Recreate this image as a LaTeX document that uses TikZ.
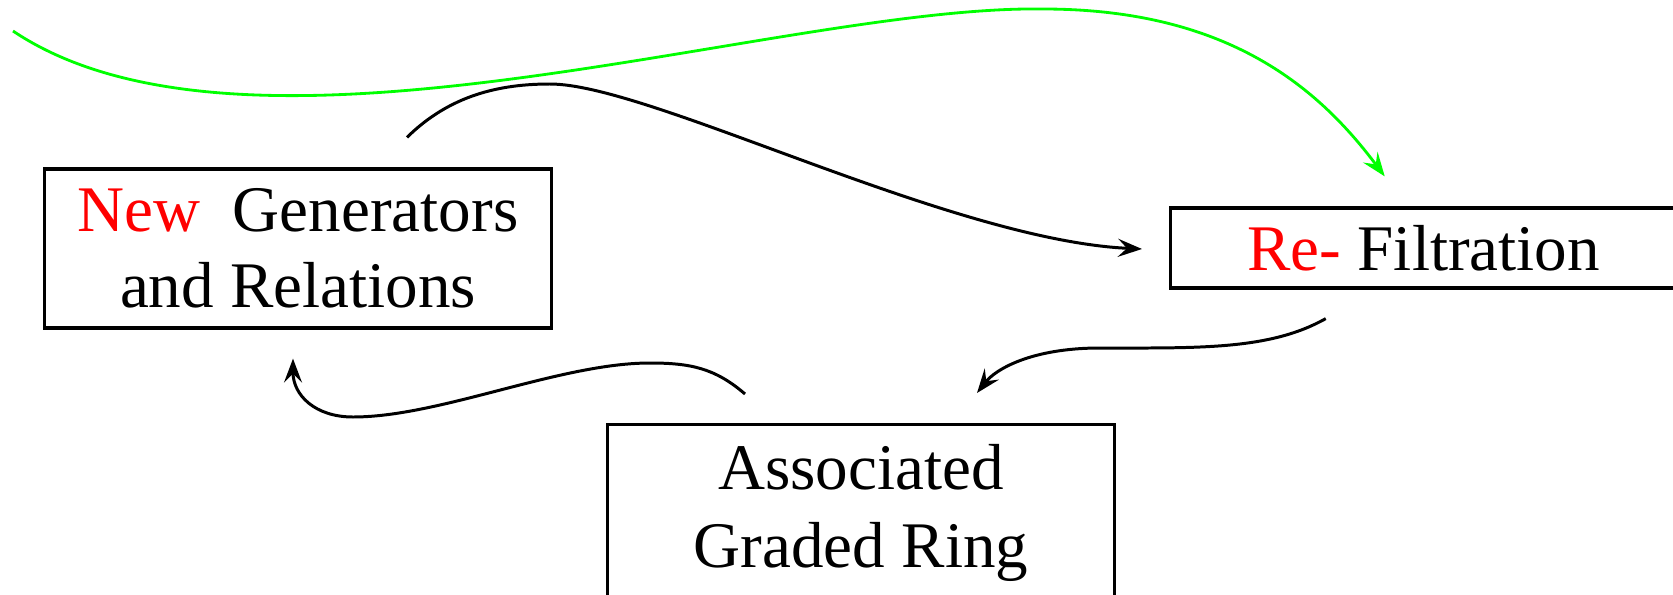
\documentclass[tikz,border=0pt]{standalone}
\usepackage{fontspec}
\setmainfont{Liberation Serif}
\usetikzlibrary{positioning,calc,arrows.meta}
\definecolor{edgeDark}{RGB}{0,0,0}
\definecolor{newRed}{RGB}{255,0,0}
\definecolor{loopGreen}{RGB}{0,255,0}

\begin{document}
\begin{tikzpicture}[
  x=0.01cm, y=-0.01cm,
  font=\fontsize{18.5}{21.6}\selectfont,
  box/.style={draw=edgeDark,line width=0.9pt,minimum width=5.06cm,
              align=center,inner sep=0pt},
  tr/.style={-{Stealth[length=2.4mm,width=1.8mm,inset=0.9mm]},line width=0.85pt},
  back/.style={tr,draw=loopGreen,line width=0.8pt}
]
\useasboundingbox (0,0) rectangle (1673,594);

% ==========  Boxes  ==========
\node[box,minimum height=1.59cm] (gens) at (298,248.5)
  {\textcolor{newRed}{New}\ \ Generators\\and Relations};

\node[box,minimum height=0.8cm,anchor=west] (refilt) at (1169,248)
  {\textcolor{newRed}{Re-} Filtration};

% bottom box runs off the lower edge of the page
\node[box,minimum height=1.76cm,anchor=north,
      font=\fontsize{18.5}{22.2}\selectfont] (assoc) at (861,423)
  {Associated\\Graded Ring};

% ==========  Loop ends (offset from the boxes)  ==========
\coordinate (gstart) at (13,31);
\coordinate (gend) at ($(refilt.north)+(-39,-30)$);
\coordinate (gensOut) at ($(gens.north)+(109,-30)$);
\coordinate (refiltIn) at ($(refilt.west)+(-27,1)$);
\coordinate (refiltOut) at ($(refilt.south)+(-98,29)$);
\coordinate (assocIn) at ($(assoc.north)+(116,-30)$);
\coordinate (assocOut) at ($(assoc.north)+(-116,-29)$);
\coordinate (gensIn) at ($(gens.south)+(-5,29)$);

% ==========  Connectors  ==========
% long green jump straight to the re-filtration
\draw[back] (gstart) .. controls (250,190) and (780,5) .. (1043,9)
  .. controls (1230,9) and (1320,90) .. (gend);

\draw[tr] (gensOut) .. controls (450,95) and (500,84) .. (550,84)
  .. controls (650,84) and (950,240) .. (refiltIn);

\draw[tr] (refiltOut) .. controls (1270,350) and (1200,348) .. (1100,348)
  .. controls (1030,348) and (995,370) .. (assocIn);

\draw[tr] (assocOut) .. controls (715,368) and (690,363) .. (650,363)
  .. controls (560,363) and (440,417) .. (353,417)
  .. controls (315,417) and (293,395) .. (gensIn);

\end{tikzpicture}
\end{document}
